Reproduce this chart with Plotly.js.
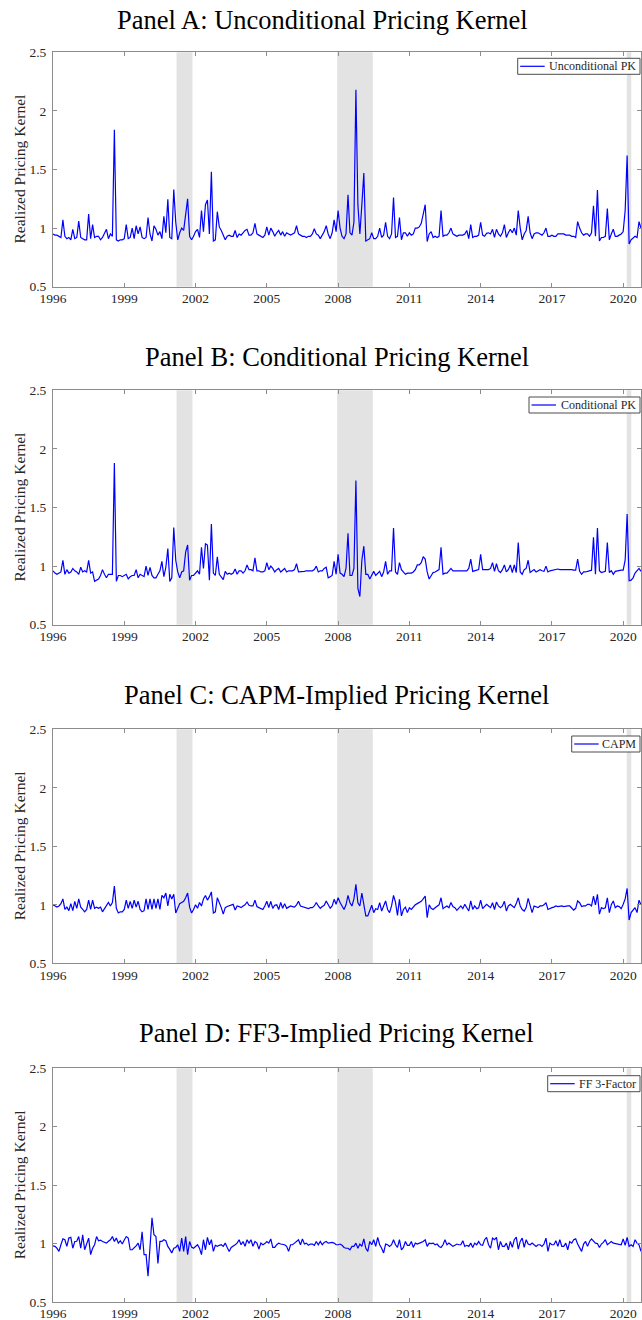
<!DOCTYPE html>
<html><head><meta charset="utf-8">
<script src="https://cdn.plot.ly/plotly-3.0.1.min.js"></script>
<style>html,body{margin:0;padding:0;background:#fff}#chart{width:642px;height:1320px}</style>
</head><body><div id="chart"></div>
<script>
// Monthly observations starting January 1996
const startYear = 1996;

const unconditionalPK = [
0.95,0.94,0.94,0.93,0.92,1.07,0.93,0.91,0.92,0.90,0.99,0.91,
0.92,1.06,0.92,0.91,0.90,0.90,1.12,0.91,1.03,0.92,0.93,0.93,
0.90,0.92,0.95,0.99,0.91,0.95,0.93,1.84,0.90,0.89,0.90,0.90,
0.91,1.03,0.91,0.92,1.00,0.91,1.02,0.95,1.01,0.92,0.91,0.92,
1.09,0.95,0.89,1.02,0.99,0.94,0.97,0.91,1.10,0.96,1.245,0.92,
0.91,1.33,1.05,0.90,0.96,1.00,0.98,1.12,1.25,0.93,0.90,0.93,
0.97,0.99,0.92,1.15,0.97,1.20,1.24,0.95,1.48,0.89,0.90,1.14,
1.01,0.98,0.94,0.90,0.93,0.94,0.93,0.93,0.98,0.92,0.95,0.94,
0.96,0.98,0.99,0.94,0.94,0.96,1.04,0.95,0.94,0.93,0.92,0.94,
1.01,0.94,1.00,0.97,0.93,0.96,0.98,0.94,0.97,0.93,0.96,0.95,
0.94,0.95,0.96,1.02,0.95,0.94,0.93,0.93,0.92,0.93,0.93,0.95,
0.995,0.95,0.94,0.91,0.94,0.97,1.02,0.95,0.91,0.96,1.07,0.97,
1.15,1.00,0.93,0.91,0.95,1.285,0.96,0.94,1.05,2.18,1.20,0.95,
1.20,1.47,0.89,0.90,0.91,0.96,0.91,0.91,0.93,1.00,0.92,0.94,
1.05,0.93,0.91,0.95,1.26,0.92,0.93,1.09,0.90,0.96,0.96,0.93,
0.96,0.94,0.95,1.00,1.00,1.01,1.04,1.12,1.20,0.885,0.95,0.97,
0.92,0.93,0.92,0.93,1.15,0.93,0.94,0.94,0.96,1.00,0.95,0.94,
0.93,0.94,0.94,0.94,0.95,0.98,0.91,1.03,0.92,0.93,0.93,0.94,
1.05,0.94,0.93,0.955,0.96,0.95,0.99,0.92,0.99,0.95,0.93,0.96,
1.03,0.92,0.96,0.99,0.96,1.00,0.94,1.15,1.00,0.90,0.95,0.98,
1.10,0.96,0.91,0.95,0.96,0.96,0.95,0.94,0.96,1.00,0.93,0.93,
0.94,0.93,0.93,0.95,0.95,0.95,0.95,0.94,0.94,0.94,0.93,0.93,
0.92,1.055,1.00,0.96,0.94,0.95,0.95,0.93,0.96,1.19,0.93,1.325,
0.89,0.92,0.92,0.93,1.166,0.90,0.95,0.99,0.93,0.93,0.94,0.95,
0.97,1.15,1.62,0.864,0.90,0.92,0.93,0.92,1.055,1.00
];

const conditionalPK = [
0.96,0.94,0.93,0.94,0.95,1.05,0.93,0.97,0.94,0.95,0.98,0.96,
0.95,0.93,0.99,0.95,0.96,0.95,1.05,0.94,0.95,0.87,0.88,0.89,
0.92,0.97,0.93,0.90,0.93,0.93,0.93,1.88,0.87,0.92,0.92,0.91,
0.92,0.93,0.89,0.91,0.92,0.92,0.97,0.90,0.93,0.92,0.91,1.00,
0.92,0.99,0.92,0.90,0.90,0.93,0.96,1.04,0.91,0.99,1.15,0.87,
0.90,1.33,1.05,0.95,0.90,0.95,0.96,1.12,1.18,0.88,0.92,0.92,
0.94,0.96,0.93,1.16,0.98,1.19,1.18,0.88,1.36,0.94,0.92,1.08,
0.93,0.91,0.885,0.955,0.93,0.94,0.93,0.94,0.975,0.93,0.96,0.96,
0.94,0.96,1.01,0.97,0.97,0.96,1.07,0.96,0.96,0.95,0.95,0.96,
1.03,0.97,1.00,0.98,0.95,0.97,0.98,0.95,0.97,0.98,0.95,0.96,
0.96,0.96,0.97,1.02,0.95,0.95,0.955,0.955,0.96,0.96,0.955,0.96,
0.97,1.00,0.95,0.96,0.96,0.98,0.99,0.90,0.91,0.92,1.04,0.93,
1.10,0.94,0.93,0.91,0.98,1.28,0.92,0.92,0.98,1.73,0.81,0.74,
1.05,1.17,0.93,0.93,0.89,0.93,0.955,0.92,0.94,0.955,0.91,0.95,
1.04,0.93,0.96,0.96,1.325,0.95,0.93,1.03,0.97,0.95,0.93,0.94,
0.94,0.94,0.95,0.97,1.01,1.01,1.03,1.08,1.06,0.95,0.89,0.92,
0.945,0.95,0.96,0.97,1.16,0.93,0.94,0.94,0.96,0.98,0.96,0.96,
0.96,0.96,0.96,0.96,0.96,0.96,0.98,1.06,0.955,0.96,0.97,0.97,
1.10,0.97,0.97,0.97,0.97,0.98,1.03,0.955,1.02,0.96,0.945,0.97,
1.01,0.95,0.97,1.01,0.945,1.01,0.945,1.20,0.95,0.93,0.97,0.98,
1.05,0.945,0.96,0.97,0.95,0.96,0.97,0.96,0.955,1.00,0.95,0.96,
0.965,0.97,0.97,0.975,0.97,0.97,0.975,0.97,0.97,0.975,0.97,0.965,
0.965,1.06,0.955,0.93,0.95,0.95,0.955,0.96,0.965,1.245,0.93,1.325,
0.96,0.945,0.95,0.955,1.20,0.945,0.96,0.93,0.955,0.96,0.96,0.965,
0.965,1.05,1.445,0.875,0.88,0.90,0.94,0.96,0.98,0.955
];

const capmPK = [
1.00,0.99,0.98,0.99,1.01,1.05,0.96,0.98,0.95,1.01,0.95,1.03,
0.97,1.05,0.98,0.96,0.94,0.96,1.04,0.96,1.04,0.97,0.98,0.97,
0.98,0.94,0.97,1.00,1.02,0.99,1.02,1.16,0.97,0.93,0.94,0.94,
0.96,1.04,0.97,1.03,0.97,1.04,0.98,1.03,0.96,0.94,0.95,1.05,
0.96,1.05,0.96,1.05,0.97,1.05,0.96,1.08,1.06,1.10,0.99,1.09,
1.05,1.09,0.93,0.97,1.01,1.02,1.03,1.06,1.10,0.98,0.93,0.96,
1.00,0.97,1.02,0.99,1.05,1.08,1.04,1.07,1.11,0.93,0.94,1.06,
1.02,0.976,0.92,0.976,0.985,0.99,1.00,1.004,0.955,0.99,0.985,0.976,
0.99,1.00,1.024,0.996,0.99,0.99,1.04,0.985,0.976,0.97,0.96,0.99,
1.03,0.976,1.03,0.97,0.996,1.00,0.96,1.02,0.97,1.01,0.97,0.98,
0.99,0.985,0.98,1.00,1.03,0.99,0.985,0.976,0.97,0.967,0.976,0.976,
0.99,1.02,0.99,0.97,0.985,0.996,1.033,1.00,0.97,0.99,1.047,1.004,
1.06,1.02,0.99,0.96,1.00,1.08,1.018,0.99,1.05,1.175,1.018,0.99,
1.10,1.004,0.905,0.905,0.947,0.996,0.933,0.967,0.96,1.018,0.947,0.99,
1.033,0.96,0.933,0.99,1.08,1.02,0.91,1.047,0.905,0.96,0.98,0.933,
0.975,0.96,0.985,1.00,1.01,1.02,1.03,1.05,1.075,0.89,1.00,0.97,
0.96,0.975,0.985,1.00,1.06,0.967,0.98,0.99,0.975,1.02,0.985,0.975,
0.953,0.975,0.99,0.967,1.004,0.975,0.947,1.033,0.96,0.99,0.967,0.975,
1.04,0.967,0.985,1.004,0.99,0.976,1.018,0.96,1.024,0.99,0.976,0.99,
1.03,0.947,0.99,1.004,0.99,0.976,1.01,1.06,0.99,0.96,0.947,0.976,
1.055,1.004,0.933,0.99,0.985,0.976,0.99,0.99,1.00,1.018,0.96,0.97,
0.976,0.98,0.99,0.985,0.99,0.99,0.985,0.99,0.99,0.99,0.976,0.955,
0.97,1.033,1.018,0.985,0.99,0.99,1.004,1.004,0.99,1.075,1.00,1.09,
0.92,0.976,0.967,0.975,1.06,0.933,1.00,1.033,0.976,0.99,0.985,0.967,
1.004,1.05,1.14,0.87,0.933,0.96,0.976,0.933,1.04,1.00
];

const ff3PK = [
0.98,0.976,0.96,0.933,0.99,1.04,1.033,0.976,1.047,1.053,0.96,1.018,
1.02,1.06,0.96,1.075,0.947,1.004,1.047,0.905,0.96,0.99,1.06,1.024,
1.03,1.018,1.01,1.004,1.02,1.033,1.06,1.018,1.047,1.004,1.024,0.996,
1.03,1.06,1.047,0.947,0.947,0.96,0.98,1.004,0.947,1.10,0.905,0.905,
0.72,0.97,1.22,1.075,1.06,0.83,1.018,1.018,1.033,1.024,0.976,0.95,
0.92,0.96,0.967,0.99,0.933,1.047,0.933,1.06,0.905,1.018,0.97,0.96,
0.975,0.99,0.96,0.905,1.033,0.947,1.053,0.99,1.033,0.933,0.985,0.976,
0.985,0.99,0.976,1.004,0.967,0.933,0.967,0.976,0.99,1.004,1.033,0.99,
1.018,0.976,1.033,1.004,1.033,0.976,1.018,1.004,0.953,1.004,0.99,1.00,
1.018,1.004,1.04,0.967,0.967,0.99,1.004,0.996,0.99,0.99,0.976,0.933,
0.99,0.99,1.004,1.018,1.033,0.99,1.04,0.996,1.004,0.985,0.996,0.996,
0.985,1.018,0.99,1.018,0.99,1.01,1.018,1.004,1.01,1.01,1.004,0.99,
0.99,0.996,0.985,0.967,0.96,0.96,0.947,0.976,0.976,1.004,0.96,0.996,
0.976,1.04,0.96,0.933,1.018,0.99,1.033,0.976,1.053,0.99,0.96,0.92,
0.996,0.99,0.976,0.99,1.033,0.99,0.967,1.033,0.947,0.967,1.018,0.985,
0.985,1.018,0.967,1.004,0.996,1.00,1.01,1.018,1.033,0.976,1.004,1.00,
1.004,0.99,0.996,0.975,0.967,0.99,1.033,0.99,1.004,0.99,0.976,0.985,
0.996,0.99,0.99,1.024,0.976,0.985,0.976,1.004,0.967,1.004,0.99,1.018,
0.99,0.985,1.033,1.053,0.99,0.96,1.047,1.033,1.053,0.947,1.018,0.976,
0.976,1.004,0.947,1.018,0.967,1.033,1.055,0.953,1.018,1.047,0.967,1.033,
0.996,0.99,1.004,0.99,0.976,0.99,0.99,0.976,0.996,1.047,0.933,1.004,
0.99,0.99,1.024,0.976,1.033,0.976,0.976,1.004,0.947,1.018,1.004,1.033,
1.04,0.996,0.96,0.933,0.996,1.018,0.976,1.018,1.04,1.018,1.004,1.00,
0.967,0.996,1.01,1.033,0.99,1.004,1.018,1.004,1.00,0.996,0.99,0.99,
1.04,0.985,1.053,0.976,0.99,0.976,1.033,1.004,0.99,0.933
];

const panelTitles = [
  "Panel A: Unconditional Pricing Kernel",
  "Panel B: Conditional Pricing Kernel",
  "Panel C: CAPM-Implied Pricing Kernel",
  "Panel D: FF3-Implied Pricing Kernel"
];
const seriesNames = ["Unconditional PK", "Conditional PK", "CAPM", "FF 3-Factor"];
const yAxisLabel = "Realized Pricing Kernel";
const xTickVals = [1996, 1999, 2002, 2005, 2008, 2011, 2014, 2017, 2020];
const yTickVals = [0.5, 1, 1.5, 2, 2.5];
const yTickText = ["0.5", "1", "1.5", "2", "2.5"];
// NBER recession bands (start, end) in decimal years
const recessionStart = [2001.2, 2007.96, 2020.15];
const recessionEnd = [2001.87, 2009.46, 2020.34];

const series = [unconditionalPK, conditionalPK, capmPK, ff3PK];

// ---------- layout geometry ----------
const W = 642, H = 1320;
const mL = 53, mR = 1, mT = 52, mB = 18;
const plotW = W - mL - mR, plotH = H - mT - mB;
const pxToPaperY = py => (H - mB - py) / plotH;
const pxToPaperX = px => (px - mL) / plotW;
const panelPx = [[52.3, 286.7], [390.3, 624.7], [729.3, 963.3], [1068.3, 1302.3]];
const titleCenterX = [322, 337, 336, 336];
const titleCenterY = [20, 357, 695, 1033];
const legendBoxLeft = [517.7, 529, 571.7, 547.7];
const legendBoxTop = [58.3, 397, 736, 1075.7];
const legendBoxRight = 640, legendBoxH = 16;

const serif = "Liberation Serif, DejaVu Serif, serif";
const axisColor = "#8c8c8c";
const textColor = "#262626";
const lineColor = "#0000ff";

const traces = [];
const layout = {
  width: W, height: H,
  margin: {l: mL, r: mR, t: mT, b: mB, pad: 0},
  paper_bgcolor: "#ffffff", plot_bgcolor: "#ffffff",
  showlegend: false,
  font: {family: serif, color: textColor, size: 13},
  shapes: [], annotations: []
};

for (let p = 0; p < 4; p++) {
  const vals = series[p];
  const dates = vals.map((_, i) => startYear + i / 12);
  const sfx = p === 0 ? "" : String(p + 1);
  traces.push({
    type: "scatter", mode: "lines",
    x: dates, y: vals,
    xaxis: "x" + sfx, yaxis: "y" + sfx,
    name: seriesNames[p],
    line: {color: lineColor, width: 1.2},
    hoverinfo: "skip"
  });
  const dom = [pxToPaperY(panelPx[p][1]), pxToPaperY(panelPx[p][0])];
  const axisCommon = {
    ticks: "inside", ticklen: 4, tickwidth: 1, tickcolor: axisColor,
    showline: true, linecolor: axisColor, linewidth: 1, mirror: "ticks",
    showgrid: false, zeroline: false,
    tickfont: {family: serif, size: 13.5, color: textColor}
  };
  layout["xaxis" + sfx] = Object.assign({
    domain: [0, 1], anchor: "y" + sfx,
    range: [1996, 2020.75], tickmode: "array", tickvals: xTickVals,
    ticktext: xTickVals.map(String), ticklabelstandoff: -1
  }, axisCommon);
  layout["yaxis" + sfx] = Object.assign({
    domain: dom, anchor: "x" + sfx,
    range: [0.5, 2.5], tickmode: "array", tickvals: yTickVals, ticktext: yTickText,
    ticklabelstandoff: 3
  }, axisCommon);

  // recession shading
  for (let r = 0; r < recessionStart.length; r++) {
    layout.shapes.push({
      type: "rect", xref: "x" + sfx, yref: "y" + sfx + " domain",
      x0: recessionStart[r], x1: recessionEnd[r], y0: 0, y1: 1,
      fillcolor: "#e3e3e3", line: {width: 0}, layer: "below"
    });
  }

  // legend box (MATLAB style)
  const lTop = legendBoxTop[p], lBot = lTop + legendBoxH, lMid = lTop + legendBoxH / 2;
  const lLeft = legendBoxLeft[p];
  layout.shapes.push({
    type: "rect", xref: "paper", yref: "paper",
    x0: pxToPaperX(lLeft), x1: pxToPaperX(legendBoxRight),
    y0: pxToPaperY(lBot), y1: pxToPaperY(lTop),
    fillcolor: "#ffffff", line: {color: "#4d4d4d", width: 1}, layer: "above"
  });
  layout.shapes.push({
    type: "line", xref: "paper", yref: "paper",
    x0: pxToPaperX(lLeft + 2.5), x1: pxToPaperX(lLeft + 27),
    y0: pxToPaperY(lMid), y1: pxToPaperY(lMid),
    line: {color: lineColor, width: 1.2}, layer: "above"
  });
  layout.annotations.push({
    text: seriesNames[p], xref: "paper", yref: "paper",
    x: pxToPaperX(legendBoxRight - 2.5), y: pxToPaperY(lMid),
    xanchor: "right", yanchor: "middle", showarrow: false,
    font: {family: serif, size: 12, color: textColor}
  });

  // panel title
  layout.annotations.push({
    text: panelTitles[p], xref: "paper", yref: "paper",
    x: pxToPaperX(titleCenterX[p]), y: pxToPaperY(titleCenterY[p]),
    xanchor: "center", yanchor: "middle", showarrow: false,
    font: {family: serif, size: 26.5, color: "#000000"}
  });
  // y-axis label
  layout.annotations.push({
    text: yAxisLabel, xref: "paper", yref: "paper", textangle: -90,
    x: pxToPaperX(19), y: pxToPaperY((panelPx[p][0] + panelPx[p][1]) / 2),
    xanchor: "center", yanchor: "middle", showarrow: false,
    font: {family: serif, size: 15.5, color: textColor}
  });
}

Plotly.newPlot("chart", traces, layout, {staticPlot: true, displayModeBar: false});
</script>
</body></html>
